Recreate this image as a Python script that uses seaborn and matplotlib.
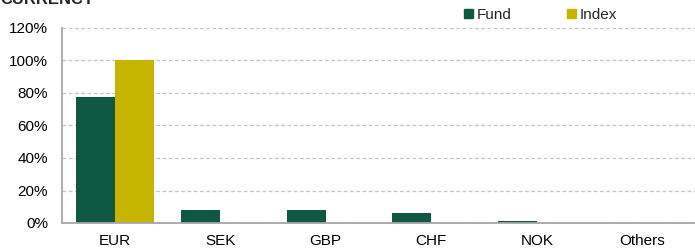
import matplotlib
matplotlib.use("Agg")
import matplotlib.pyplot as plt
import seaborn as sns
import pandas as pd
from matplotlib.ticker import PercentFormatter

# ── data ──────────────────────────────────────────────────────────────────────
CURRENCIES = ["EUR", "SEK", "GBP", "CHF", "NOK", "Others"]
FUND       = [77.5, 8.2, 8.0, 6.3, 1.3, 0.0]
INDEX      = [100.0, 0.0, 0.0, 0.0, 0.0, 0.0]

PALETTE = {"Fund": "#0F5841", "Index": "#C6B500"}

df = pd.DataFrame({
    "currency": CURRENCIES * 2,
    "series":   ["Fund"] * len(FUND) + ["Index"] * len(INDEX),
    "value":    FUND + INDEX,
})

sns.set_theme(style="white")
plt.rcParams["font.family"] = ["Liberation Sans", "DejaVu Sans"]

fig = plt.figure(figsize=(6.95, 2.52), dpi=100)
ax = fig.add_axes([62 / 695, 1 - 223 / 252, 1 - 62 / 695, 195 / 252])

sns.barplot(
    data=df, x="currency", y="value", hue="series",
    order=CURRENCIES, hue_order=["Fund", "Index"],
    palette=PALETTE, width=0.74, linewidth=0, saturation=1,
    ax=ax, legend=False,
)

ax.set_ylim(0, 120)
ax.set_xlim(-0.5, len(CURRENCIES) - 0.5)
ax.set_yticks(range(0, 121, 20))
ax.yaxis.set_major_formatter(PercentFormatter(decimals=0))
ax.yaxis.grid(True, linestyle=(0, (3, 2)), color="#C4C4C4", linewidth=0.9)
ax.set_axisbelow(True)
ax.set_xlabel("")
ax.set_ylabel("")
ax.tick_params(axis="both", length=0, labelsize=11, colors="#000000")
ax.tick_params(axis="y", pad=10)
ax.tick_params(axis="x", pad=8)

for side in ["top", "right"]:
    ax.spines[side].set_visible(False)
for side in ["left", "bottom"]:
    ax.spines[side].set_color("#A6A6A6")
    ax.spines[side].set_linewidth(1.3)

handles = [plt.Rectangle((0, 0), 1, 1, color=PALETTE[k]) for k in ["Fund", "Index"]]
fig.legend(
    handles, ["Fund", "Index"], ncol=2, frameon=False,
    loc="center left", bbox_to_anchor=(464 / 695, 1 - 15 / 252),
    handlelength=0.6, handleheight=0.6, handletextpad=0.25,
    columnspacing=3.6, fontsize=11, borderaxespad=0, borderpad=0,
)

# title is partly cropped at the top edge, as in the source image
fig.text(0.0, 1 - 4 / 252, "CURRENCY", fontsize=12, fontweight="bold",
         ha="left", va="baseline")

fig.savefig("out.png", dpi=100)
